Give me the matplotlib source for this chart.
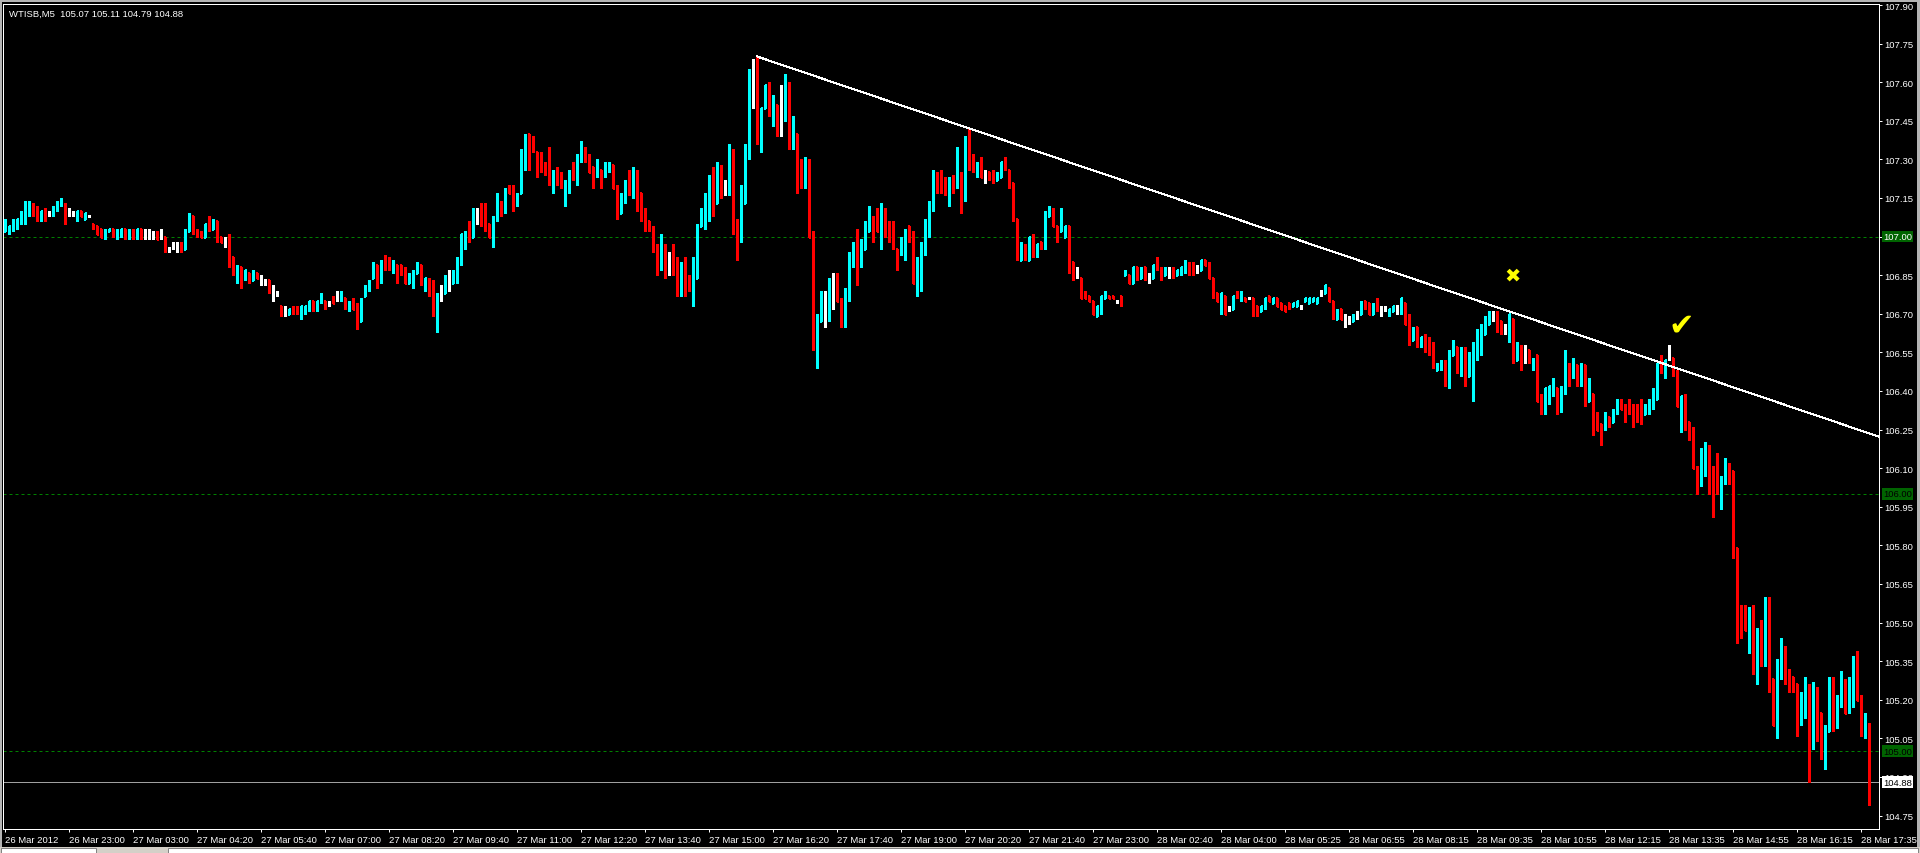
import numpy as np
import matplotlib
matplotlib.use('Agg')
import matplotlib.pyplot as plt
from matplotlib.collections import LineCollection
from matplotlib.patches import Rectangle

plt.rcParams['font.family'] = ['Liberation Sans', 'DejaVu Sans']

symbol = 'WTISB,M5'

# M5 bars, 26 Mar 2012 ... 28 Mar 2012 17:45
opens = [
    107.02, 107.03, 107.03, 107.05, 107.06, 107.08, 107.10, 107.12, 107.11, 107.07,
    107.10, 107.09, 107.09, 107.11, 107.13, 107.12, 107.09, 107.09, 107.07, 107.10,
    107.07, 107.08, 107.05, 107.04, 107.03, 107.00, 107.02, 107.03, 107.01, 107.01,
    107.03, 107.00, 107.02, 107.00, 107.03, 107.00, 107.00, 107.00, 107.01, 107.01,
    107.00, 106.95, 106.96, 106.97, 106.97, 106.95, 107.02, 107.08, 107.02, 107.01,
    107.00, 107.06, 107.03, 107.06, 107.00, 106.99, 107.00, 106.92, 106.85, 106.88,
    106.84, 106.86, 106.83, 106.86, 106.84, 106.83, 106.83, 106.80, 106.78, 106.73,
    106.72, 106.70, 106.72, 106.72, 106.70, 106.71, 106.72, 106.75, 106.72, 106.75,
    106.75, 106.74, 106.76, 106.77, 106.76, 106.76, 106.72, 106.75, 106.73, 106.67,
    106.77, 106.80, 106.84, 106.89, 106.83, 106.91, 106.91, 106.87, 106.89, 106.89,
    106.87, 106.82, 106.83, 106.86, 106.89, 106.80, 106.83, 106.79, 106.66, 106.78,
    106.78, 106.83, 106.82, 106.83, 106.90, 106.96, 107.04, 107.00, 107.08, 107.08,
    107.05, 107.05, 107.00, 107.08, 107.13, 107.10, 107.19, 107.17, 107.13, 107.17,
    107.35, 107.40, 107.36, 107.33, 107.30, 107.28, 107.26, 107.22, 107.25, 107.24,
    107.20, 107.20, 107.26, 107.24, 107.30, 107.34, 107.31, 107.27, 107.24, 107.26,
    107.24, 107.27, 107.28, 107.19, 107.09, 107.14, 107.23, 107.17, 107.23, 107.17,
    107.10, 107.06, 107.03, 106.95, 106.92, 106.95, 106.91, 106.92, 106.89, 106.80,
    106.89, 106.84, 106.79, 106.84, 107.04, 107.06, 107.13, 107.20, 107.13, 107.25,
    107.18, 107.18, 107.33, 107.06, 107.00, 107.13, 107.31, 107.54, 107.56, 107.41,
    107.50, 107.58, 107.50, 107.51, 107.47, 107.46, 107.59, 107.38, 107.40, 107.28,
    107.22, 107.27, 107.01, 106.60, 106.67, 106.70, 106.69, 106.79, 106.81, 106.75,
    106.68, 106.78, 106.90, 106.93, 106.89, 106.95, 107.02, 107.07, 107.06, 107.03,
    107.10, 107.05, 107.03, 106.95, 106.94, 106.96, 107.04, 107.00, 106.82, 106.85,
    106.95, 107.02, 107.12, 107.24, 107.24, 107.21, 107.16, 107.23, 107.20, 107.24,
    107.19, 107.34, 107.31, 107.25, 107.28, 107.23, 107.25, 107.24, 107.22, 107.23,
    107.30, 107.26, 107.21, 107.07, 106.91, 106.96, 106.91, 107.00, 106.93, 106.98,
    106.96, 107.08, 107.10, 107.04, 107.02, 107.00, 107.04, 106.90, 106.85, 106.84,
    106.78, 106.77, 106.75, 106.69, 106.72, 106.76, 106.77, 106.77, 106.75, 106.77,
    106.85, 106.85, 106.82, 106.88, 106.84, 106.88, 106.85, 106.84, 106.91, 106.87,
    106.85, 106.86, 106.87, 106.85, 106.86, 106.87, 106.89, 106.89, 106.88, 106.87,
    106.91, 106.89, 106.84, 106.78, 106.72, 106.77, 106.72, 106.72, 106.78, 106.76,
    106.76, 106.76, 106.76, 106.73, 106.71, 106.73, 106.77, 106.74, 106.76, 106.74,
    106.73, 106.74, 106.73, 106.73, 106.73, 106.75, 106.74, 106.75, 106.74, 106.79,
    106.78, 106.80, 106.75, 106.68, 106.72, 106.69, 106.68, 106.67, 106.70, 106.70,
    106.75, 106.74, 106.70, 106.74, 106.71, 106.72, 106.70, 106.71, 106.73, 106.71,
    106.74, 106.69, 106.60, 106.65, 106.58, 106.61, 106.60, 106.58, 106.48, 106.49,
    106.51, 106.42, 106.54, 106.57, 106.47, 106.56, 106.46, 106.50, 106.55, 106.58,
    106.62, 106.66, 106.68, 106.70, 106.67, 106.64, 106.62, 106.68, 106.52, 106.57,
    106.54, 106.56, 106.49, 106.54, 106.37, 106.32, 106.37, 106.40, 106.41, 106.33,
    106.40, 106.50, 106.47, 106.50, 106.44, 106.50, 106.36, 106.39, 106.30, 106.27,
    106.26, 106.30, 106.28, 106.32, 106.35, 106.34, 106.34, 106.33, 106.33, 106.33,
    106.31, 106.32, 106.34, 106.37, 106.52, 106.48, 106.53, 106.53, 106.47, 106.33,
    106.38, 106.28, 106.25, 106.10, 106.04, 106.08, 106.17, 106.10, 106.14, 106.03,
    106.06, 106.11, 106.09, 105.79, 105.54, 105.52, 105.43, 105.50, 105.34, 105.42,
    105.39, 105.58, 105.28, 105.08, 105.34, 105.38, 105.31, 105.29, 105.26, 105.13,
    105.14, 105.23, 105.10, 105.20, 105.15, 104.97, 105.08, 105.28, 105.13, 105.18,
    105.26, 105.16, 105.22, 105.35, 105.21, 105.06, 105.07,
]

highs = [
    107.07, 107.04, 107.07, 107.07, 107.10, 107.14, 107.14, 107.13, 107.12, 107.10,
    107.11, 107.10, 107.12, 107.14, 107.15, 107.13, 107.11, 107.10, 107.10, 107.10,
    107.09, 107.08, 107.05, 107.04, 107.03, 107.03, 107.03, 107.03, 107.03, 107.03,
    107.03, 107.03, 107.03, 107.03, 107.03, 107.03, 107.03, 107.02, 107.02, 107.03,
    107.00, 106.96, 106.98, 106.98, 106.98, 107.03, 107.09, 107.08, 107.03, 107.02,
    107.05, 107.08, 107.07, 107.06, 107.00, 107.00, 107.01, 106.92, 106.89, 106.88,
    106.87, 106.86, 106.87, 106.86, 106.85, 106.83, 106.83, 106.81, 106.79, 106.73,
    106.73, 106.72, 106.73, 106.73, 106.73, 106.73, 106.75, 106.75, 106.75, 106.78,
    106.75, 106.75, 106.77, 106.79, 106.79, 106.76, 106.75, 106.76, 106.74, 106.76,
    106.81, 106.83, 106.90, 106.89, 106.91, 106.93, 106.92, 106.91, 106.89, 106.89,
    106.88, 106.86, 106.87, 106.90, 106.89, 106.84, 106.84, 106.83, 106.78, 106.81,
    106.85, 106.87, 106.87, 106.92, 107.01, 107.02, 107.06, 107.11, 107.11, 107.13,
    107.13, 107.05, 107.08, 107.17, 107.14, 107.19, 107.20, 107.20, 107.17, 107.34,
    107.40, 107.40, 107.39, 107.33, 107.33, 107.29, 107.35, 107.26, 107.27, 107.25,
    107.22, 107.26, 107.29, 107.32, 107.37, 107.35, 107.32, 107.27, 107.30, 107.26,
    107.29, 107.29, 107.28, 107.20, 107.17, 107.22, 107.26, 107.27, 107.26, 107.17,
    107.11, 107.06, 107.04, 106.97, 107.01, 106.97, 106.94, 106.97, 106.92, 106.90,
    106.92, 106.85, 106.92, 107.05, 107.11, 107.17, 107.24, 107.27, 107.29, 107.28,
    107.22, 107.36, 107.34, 107.07, 107.20, 107.36, 107.65, 107.69, 107.70, 107.50,
    107.59, 107.60, 107.55, 107.51, 107.59, 107.63, 107.60, 107.47, 107.40, 107.30,
    107.31, 107.30, 107.02, 106.70, 106.79, 106.79, 106.84, 106.86, 106.86, 106.76,
    106.80, 106.94, 106.98, 107.03, 106.99, 107.06, 107.12, 107.08, 107.11, 107.13,
    107.11, 107.06, 107.06, 106.95, 107.00, 107.03, 107.04, 107.02, 106.92, 106.98,
    107.07, 107.14, 107.26, 107.25, 107.26, 107.23, 107.23, 107.24, 107.35, 107.25,
    107.39, 107.42, 107.32, 107.29, 107.31, 107.26, 107.25, 107.26, 107.25, 107.29,
    107.31, 107.26, 107.21, 107.07, 106.98, 106.97, 107.00, 107.01, 106.97, 106.98,
    107.10, 107.12, 107.11, 107.04, 107.11, 107.04, 107.04, 106.90, 106.88, 106.84,
    106.79, 106.77, 106.75, 106.73, 106.77, 106.79, 106.77, 106.77, 106.75, 106.77,
    106.87, 106.85, 106.88, 106.88, 106.88, 106.88, 106.86, 106.89, 106.92, 106.88,
    106.88, 106.88, 106.88, 106.87, 106.88, 106.91, 106.90, 106.90, 106.89, 106.91,
    106.91, 106.90, 106.84, 106.78, 106.78, 106.77, 106.73, 106.77, 106.79, 106.79,
    106.76, 106.76, 106.76, 106.73, 106.73, 106.76, 106.77, 106.76, 106.76, 106.74,
    106.73, 106.74, 106.74, 106.75, 106.73, 106.76, 106.76, 106.76, 106.76, 106.79,
    106.81, 106.80, 106.75, 106.72, 106.72, 106.70, 106.69, 106.70, 106.71, 106.75,
    106.75, 106.74, 106.74, 106.76, 106.73, 106.73, 106.72, 106.73, 106.73, 106.76,
    106.74, 106.70, 106.65, 106.65, 106.61, 106.62, 106.61, 106.59, 106.51, 106.52,
    106.52, 106.56, 106.60, 106.57, 106.57, 106.57, 106.55, 106.59, 106.64, 106.66,
    106.69, 106.71, 106.71, 106.71, 106.67, 106.66, 106.70, 106.68, 106.59, 106.58,
    106.58, 106.56, 106.53, 106.54, 106.39, 106.41, 106.42, 106.45, 106.41, 106.42,
    106.56, 106.51, 106.53, 106.50, 106.51, 106.50, 106.45, 106.39, 106.32, 106.27,
    106.32, 106.30, 106.33, 106.37, 106.37, 106.35, 106.37, 106.35, 106.35, 106.37,
    106.35, 106.37, 106.41, 106.51, 106.54, 106.52, 106.58, 106.53, 106.48, 106.38,
    106.39, 106.28, 106.26, 106.11, 106.18, 106.20, 106.19, 106.11, 106.16, 106.07,
    106.14, 106.12, 106.09, 105.79, 105.57, 105.57, 105.56, 105.57, 105.48, 105.51,
    105.60, 105.60, 105.28, 105.36, 105.44, 105.41, 105.32, 105.29, 105.26, 105.23,
    105.29, 105.26, 105.27, 105.25, 105.15, 105.10, 105.29, 105.29, 105.22, 105.31,
    105.28, 105.29, 105.37, 105.39, 105.22, 105.15, 105.11,
]

lows = [
    107.02, 107.01, 107.02, 107.03, 107.05, 107.05, 107.08, 107.08, 107.06, 107.06,
    107.06, 107.08, 107.08, 107.10, 107.12, 107.05, 107.08, 107.08, 107.06, 107.08,
    107.07, 107.08, 107.03, 107.01, 107.00, 106.99, 107.02, 107.00, 106.99, 107.00,
    106.99, 106.99, 106.99, 106.99, 106.99, 106.99, 106.99, 106.99, 106.99, 106.99,
    106.94, 106.94, 106.95, 106.94, 106.94, 106.95, 107.02, 107.01, 107.00, 107.00,
    107.00, 107.02, 107.03, 106.98, 106.98, 106.96, 106.88, 106.85, 106.82, 106.80,
    106.83, 106.82, 106.83, 106.84, 106.81, 106.81, 106.78, 106.75, 106.77, 106.69,
    106.69, 106.70, 106.70, 106.70, 106.68, 106.70, 106.71, 106.71, 106.71, 106.74,
    106.72, 106.73, 106.74, 106.75, 106.75, 106.72, 106.71, 106.72, 106.64, 106.67,
    106.77, 106.79, 106.84, 106.80, 106.82, 106.87, 106.87, 106.86, 106.82, 106.85,
    106.82, 106.82, 106.80, 106.86, 106.81, 106.79, 106.77, 106.69, 106.63, 106.75,
    106.78, 106.79, 106.82, 106.82, 106.89, 106.95, 106.98, 107.00, 107.05, 107.04,
    107.02, 107.00, 106.96, 107.06, 107.08, 107.09, 107.17, 107.10, 107.12, 107.17,
    107.26, 107.26, 107.33, 107.23, 107.25, 107.24, 107.20, 107.17, 107.20, 107.19,
    107.12, 107.17, 107.22, 107.20, 107.29, 107.29, 107.25, 107.19, 107.23, 107.19,
    107.23, 107.25, 107.19, 107.07, 107.09, 107.13, 107.16, 107.15, 107.10, 107.06,
    107.02, 107.02, 106.94, 106.85, 106.87, 106.84, 106.85, 106.85, 106.77, 106.77,
    106.77, 106.79, 106.73, 106.84, 107.04, 107.03, 107.06, 107.08, 107.13, 107.15,
    107.16, 107.16, 107.01, 106.91, 106.98, 107.13, 107.30, 107.50, 107.36, 107.33,
    107.50, 107.47, 107.43, 107.39, 107.39, 107.45, 107.34, 107.34, 107.17, 107.19,
    107.19, 107.00, 106.56, 106.49, 106.67, 106.65, 106.67, 106.72, 106.75, 106.65,
    106.65, 106.75, 106.88, 106.81, 106.88, 106.95, 107.02, 106.98, 107.02, 106.95,
    107.00, 106.98, 106.95, 106.87, 106.93, 106.91, 106.98, 106.82, 106.77, 106.79,
    106.93, 107.00, 107.10, 107.17, 107.17, 107.16, 107.12, 107.17, 107.19, 107.09,
    107.14, 107.26, 107.25, 107.23, 107.23, 107.21, 107.22, 107.21, 107.22, 107.23,
    107.26, 107.19, 107.06, 106.91, 106.91, 106.91, 106.91, 106.92, 106.92, 106.95,
    106.95, 107.08, 107.04, 106.98, 107.02, 107.00, 106.86, 106.83, 106.84, 106.76,
    106.76, 106.75, 106.70, 106.69, 106.70, 106.76, 106.76, 106.76, 106.74, 106.73,
    106.85, 106.82, 106.82, 106.83, 106.84, 106.83, 106.82, 106.84, 106.87, 106.83,
    106.85, 106.84, 106.84, 106.85, 106.85, 106.86, 106.85, 106.85, 106.86, 106.87,
    106.89, 106.84, 106.76, 106.75, 106.70, 106.70, 106.71, 106.72, 106.76, 106.75,
    106.75, 106.76, 106.69, 106.69, 106.71, 106.72, 106.75, 106.74, 106.73, 106.72,
    106.71, 106.72, 106.73, 106.73, 106.72, 106.75, 106.74, 106.75, 106.74, 106.77,
    106.78, 106.75, 106.68, 106.68, 106.68, 106.65, 106.66, 106.67, 106.68, 106.70,
    106.72, 106.70, 106.70, 106.71, 106.69, 106.71, 106.69, 106.71, 106.70, 106.70,
    106.66, 106.58, 106.60, 106.57, 106.57, 106.55, 106.54, 106.49, 106.48, 106.48,
    106.42, 106.41, 106.54, 106.47, 106.46, 106.42, 106.46, 106.36, 106.52, 106.54,
    106.62, 106.66, 106.67, 106.63, 106.62, 106.62, 106.59, 106.51, 106.52, 106.48,
    106.51, 106.51, 106.48, 106.36, 106.31, 106.31, 106.35, 106.38, 106.31, 106.32,
    106.39, 106.42, 106.45, 106.42, 106.42, 106.34, 106.36, 106.23, 106.25, 106.19,
    106.25, 106.26, 106.28, 106.31, 106.33, 106.28, 106.31, 106.26, 106.28, 106.27,
    106.31, 106.31, 106.33, 106.37, 106.47, 106.45, 106.52, 106.46, 106.34, 106.24,
    106.25, 106.21, 106.10, 106.00, 106.03, 106.07, 106.00, 105.91, 106.00, 105.94,
    106.04, 106.04, 105.75, 105.42, 105.44, 105.47, 105.38, 105.30, 105.26, 105.33,
    105.33, 105.23, 105.10, 105.05, 105.28, 105.26, 105.23, 105.23, 105.06, 105.10,
    105.13, 104.88, 105.01, 105.04, 104.97, 104.93, 105.08, 105.08, 105.09, 105.17,
    105.15, 105.15, 105.17, 105.20, 105.06, 105.05, 104.79,
]

closes = [
    107.04, 107.04, 107.06, 107.07, 107.09, 107.12, 107.13, 107.10, 107.08, 107.10,
    107.08, 107.09, 107.11, 107.13, 107.14, 107.09, 107.09, 107.09, 107.10, 107.08,
    107.09, 107.08, 107.04, 107.01, 107.00, 107.02, 107.03, 107.01, 107.02, 107.03,
    107.00, 107.02, 107.00, 107.03, 107.00, 107.00, 107.00, 107.00, 106.99, 107.01,
    106.96, 106.95, 106.96, 106.97, 106.95, 107.02, 107.08, 107.02, 107.01, 107.00,
    107.05, 107.03, 107.06, 107.00, 106.98, 106.99, 106.92, 106.87, 106.88, 106.84,
    106.87, 106.83, 106.86, 106.84, 106.84, 106.83, 106.80, 106.80, 106.78, 106.71,
    106.72, 106.72, 106.71, 106.71, 106.73, 106.73, 106.75, 106.73, 106.75, 106.77,
    106.73, 106.74, 106.74, 106.77, 106.78, 106.73, 106.74, 106.72, 106.65, 106.75,
    106.80, 106.82, 106.89, 106.84, 106.90, 106.89, 106.88, 106.90, 106.86, 106.86,
    106.82, 106.85, 106.86, 106.88, 106.82, 106.84, 106.79, 106.70, 106.77, 106.78,
    106.84, 106.83, 106.85, 106.90, 107.01, 107.01, 107.00, 107.08, 107.08, 107.05,
    107.04, 107.00, 107.07, 107.14, 107.10, 107.16, 107.17, 107.12, 107.16, 107.33,
    107.38, 107.33, 107.34, 107.28, 107.27, 107.26, 107.23, 107.25, 107.22, 107.22,
    107.21, 107.25, 107.24, 107.30, 107.33, 107.31, 107.25, 107.23, 107.26, 107.23,
    107.27, 107.28, 107.19, 107.09, 107.15, 107.16, 107.17, 107.22, 107.20, 107.10,
    107.06, 107.03, 106.95, 106.92, 106.98, 106.90, 106.91, 106.89, 106.82, 106.89,
    106.86, 106.81, 106.82, 107.04, 107.10, 107.16, 107.18, 107.13, 107.28, 107.17,
    107.18, 107.33, 107.08, 107.05, 107.12, 107.30, 107.55, 107.54, 107.42, 107.50,
    107.59, 107.50, 107.51, 107.46, 107.47, 107.59, 107.40, 107.40, 107.29, 107.25,
    107.28, 107.00, 106.65, 106.66, 106.70, 106.70, 106.80, 106.79, 106.75, 106.70,
    106.79, 106.91, 106.95, 106.89, 106.95, 107.04, 107.06, 107.03, 107.02, 107.10,
    107.08, 107.01, 106.98, 106.92, 106.97, 107.02, 107.00, 106.82, 106.85, 106.94,
    107.02, 107.12, 107.23, 107.21, 107.20, 107.19, 107.22, 107.21, 107.23, 107.19,
    107.34, 107.31, 107.29, 107.28, 107.23, 107.23, 107.23, 107.22, 107.24, 107.29,
    107.28, 107.20, 107.07, 106.92, 106.96, 106.92, 107.00, 106.94, 106.97, 106.96,
    107.08, 107.10, 107.04, 107.02, 107.05, 107.04, 106.87, 106.85, 106.85, 106.76,
    106.76, 106.75, 106.70, 106.73, 106.77, 106.78, 106.76, 106.76, 106.75, 106.74,
    106.86, 106.82, 106.88, 106.84, 106.87, 106.84, 106.85, 106.89, 106.88, 106.84,
    106.87, 106.86, 106.85, 106.87, 106.88, 106.90, 106.86, 106.86, 106.88, 106.91,
    106.89, 106.84, 106.78, 106.75, 106.78, 106.70, 106.72, 106.77, 106.77, 106.78,
    106.75, 106.76, 106.72, 106.71, 106.73, 106.76, 106.75, 106.76, 106.73, 106.72,
    106.71, 106.73, 106.74, 106.75, 106.73, 106.76, 106.76, 106.76, 106.76, 106.79,
    106.81, 106.75, 106.70, 106.71, 106.68, 106.69, 106.68, 106.69, 106.70, 106.74,
    106.73, 106.70, 106.73, 106.72, 106.71, 106.72, 106.72, 106.73, 106.73, 106.76,
    106.66, 106.60, 106.64, 106.61, 106.61, 106.58, 106.57, 106.51, 106.50, 106.51,
    106.44, 106.54, 106.56, 106.54, 106.51, 106.47, 106.50, 106.58, 106.60, 106.62,
    106.67, 106.70, 106.68, 106.66, 106.64, 106.64, 106.70, 106.54, 106.56, 106.55,
    106.54, 106.53, 106.52, 106.36, 106.32, 106.41, 106.42, 106.43, 106.32, 106.40,
    106.55, 106.47, 106.50, 106.43, 106.50, 106.35, 106.38, 106.29, 106.25, 106.26,
    106.31, 106.28, 106.32, 106.34, 106.33, 106.31, 106.32, 106.31, 106.31, 106.30,
    106.32, 106.33, 106.38, 106.51, 106.50, 106.52, 106.53, 106.47, 106.34, 106.38,
    106.28, 106.25, 106.10, 106.05, 106.17, 106.19, 106.10, 106.09, 106.04, 106.06,
    106.13, 106.08, 105.79, 105.53, 105.51, 105.47, 105.51, 105.36, 105.42, 105.40,
    105.58, 105.28, 105.10, 105.35, 105.36, 105.29, 105.27, 105.26, 105.14, 105.15,
    105.17, 105.09, 105.23, 105.15, 104.98, 105.09, 105.28, 105.14, 105.16, 105.28,
    105.15, 105.22, 105.35, 105.20, 105.07, 105.07, 104.88,
]

time_labels = [
    '26 Mar 2012', '26 Mar 23:00', '27 Mar 03:00', '27 Mar 04:20', '27 Mar 05:40',
    '27 Mar 07:00', '27 Mar 08:20', '27 Mar 09:40', '27 Mar 11:00', '27 Mar 12:20',
    '27 Mar 13:40', '27 Mar 15:00', '27 Mar 16:20', '27 Mar 17:40', '27 Mar 19:00',
    '27 Mar 20:20', '27 Mar 21:40', '27 Mar 23:00', '28 Mar 02:40', '28 Mar 04:00',
    '28 Mar 05:25', '28 Mar 06:55', '28 Mar 08:15', '28 Mar 09:35', '28 Mar 10:55',
    '28 Mar 12:15', '28 Mar 13:35', '28 Mar 14:55', '28 Mar 16:15', '28 Mar 17:35',
]
bars_per_label = 16

round_levels = [107.00, 106.00, 105.00]

# trend line anchors (bar index, price)
trend_x = [188, 419]
trend_y = [107.70, 106.483]

# yellow marks (bar index, price)
cross_at = (377, 106.85)
check_at = (419, 106.655)

o = np.array(opens)
h = np.array(highs)
l = np.array(lows)
c = np.array(closes)
n = len(c)
x = np.arange(n)

PX = 0.72  # one pixel in points at dpi 100
W, H = 1920, 854
fig = plt.figure(figsize=(W / 100, H / 100), dpi=100, facecolor='black')
ax = fig.add_axes([3 / W, (H - 830) / H, (1879 - 3) / W, (830 - 5) / H])
ax.set_facecolor('black')
ax.set_xlim(-0.5, 468.5)
ax.set_ylim(104.6976, 107.9039)

# ohlc bars
up = np.round(c - o, 4) > 0
dn = np.round(c - o, 4) < 0
col = np.where(up, '#00ffff', np.where(dn, '#ff0000', '#ffffff'))
top = np.maximum.reduce([h, o, c])
bot = np.minimum.reduce([l, o, c])
segs, cols = [], []
for i in range(n):
    segs.append([(x[i], bot[i]), (x[i], top[i])])
    segs.append([(x[i] - 0.35, o[i]), (x[i], o[i])])
    segs.append([(x[i], c[i]), (x[i] + 0.35, c[i])])
    cols += [col[i]] * 3
bars = LineCollection(segs, colors=cols, linewidths=0.85, antialiaseds=False, zorder=3)
ax.add_collection(bars)

# round number levels + bid line
for lvl in round_levels:
    ax.axhline(lvl, color='#008000', lw=PX, ls=(0, (3, 3)), zorder=2)
ax.axhline(c[-1], color='#a0a0a0', lw=PX, zorder=2)

# trend line, extended to the right edge
slope = (trend_y[1] - trend_y[0]) / (trend_x[1] - trend_x[0])
x_end = ax.get_xlim()[1]
ax.plot([trend_x[0], x_end], [trend_y[0], trend_y[0] + slope * (x_end - trend_x[0])],
        color='white', lw=PX, antialiased=False, zorder=4)

ax.text(*cross_at, '\u2716', color='#ffff00', fontsize=14, ha='center', va='center',
        family='DejaVu Sans', zorder=5)
ax.text(*check_at, '\u2714', color='#ffff00', fontsize=22, ha='center', va='center',
        family='DejaVu Sans', zorder=5)

# axes styling
for s in ax.spines.values():
    s.set_color('white')
    s.set_linewidth(PX)

yt = np.round(np.arange(104.75, 107.91, 0.15), 2)
ax.yaxis.tick_right()
ax.set_yticks(yt)
ax.set_yticklabels([f'{v:.2f}' for v in yt])
ax.set_xticks(np.arange(len(time_labels)) * bars_per_label)
ax.set_xticklabels(time_labels)
for t in ax.get_xticklabels():
    t.set_ha('left')
ax.tick_params(axis='both', colors='white', direction='out', length=2.5, width=PX,
               labelsize=6.8, pad=1.5)

# price labels on the right scale
for lvl in round_levels:
    txt_col = 'white' if np.isclose(yt, lvl).any() else 'black'
    ax.annotate(f'{lvl:.2f}', xy=(1, lvl), xycoords=('axes fraction', 'data'),
                xytext=(4, 0), textcoords='offset pixels', ha='left', va='center',
                fontsize=6.8, color=txt_col, annotation_clip=False, zorder=6,
                bbox=dict(boxstyle='square,pad=0.15', fc='#006400', ec='none'))
ax.annotate(f'{c[-1]:.2f}', xy=(1, c[-1]), xycoords=('axes fraction', 'data'),
            xytext=(4, 0), textcoords='offset pixels', ha='left', va='center',
            fontsize=6.8, color='black', annotation_clip=False, zorder=6,
            bbox=dict(boxstyle='square,pad=0.15', fc='white', ec='none'))

fig.text(9 / W, 1 - 14 / H,
         f'{symbol}  {o[-1]:.2f} {h[-1]:.2f} {l[-1]:.2f} {c[-1]:.2f}',
         color='white', fontsize=6.8, ha='left', va='center')

# window chrome
fig.patches.append(Rectangle((0, 1 - 3 / H), 1, 3 / H, transform=fig.transFigure,
                             fc='#b4b4b4', ec='none'))
fig.patches.append(Rectangle((0, 0), 2 / W, 1, transform=fig.transFigure,
                             fc='#b4b4b4', ec='none'))
fig.patches.append(Rectangle((1 - 3 / W, 0), 3 / W, 1, transform=fig.transFigure,
                             fc='#b4b4b4', ec='none'))
fig.patches.append(Rectangle((0, 0), 1, 6 / H, transform=fig.transFigure,
                             fc='#d4d0c8', ec='none'))
fig.patches.append(Rectangle((1 / W, 0), 95 / W, 5 / H, transform=fig.transFigure,
                             fc='white', ec='#808080', lw=0.7))
fig.patches.append(Rectangle((168 / W, 0), 1750 / W, 5 / H, transform=fig.transFigure,
                             fc='white', ec='#808080', lw=0.7))

fig.savefig('out.png', dpi=100, facecolor='black')
